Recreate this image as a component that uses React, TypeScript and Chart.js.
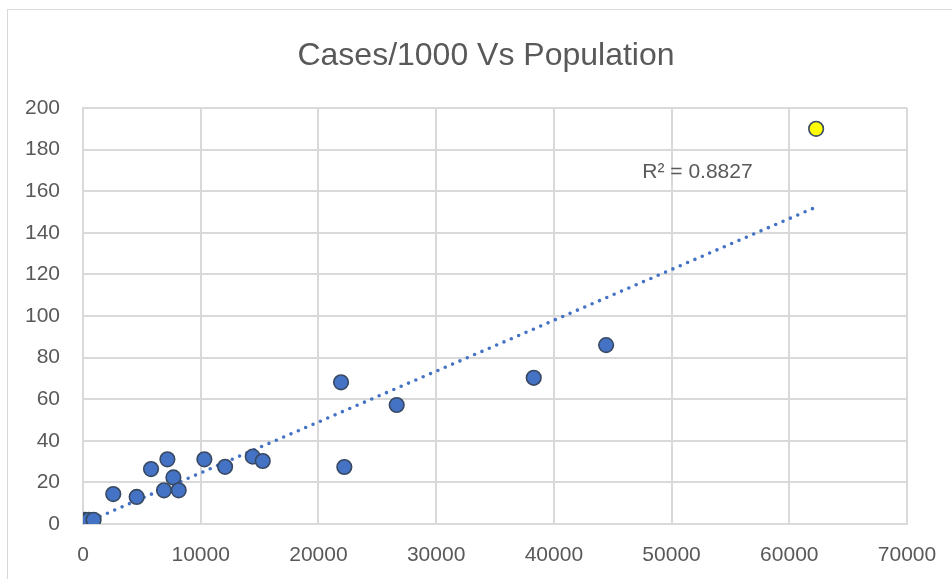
import { useEffect, useRef } from 'react';
import { Chart, registerables } from 'chart.js';

Chart.register(...registerables);

const title = 'Cases/1000 Vs Population';
const population = [200, 500, 900, 2570, 4560, 5780, 7170, 7680, 6880, 8130, 10310, 12070, 14420, 15270, 21920, 22200, 26650, 38290, 44440, 62280];
const casesPer1000 = [2, 2, 2, 14.4, 13, 26.4, 31.1, 22.4, 16.2, 16.2, 31.1, 27.5, 32.4, 30.3, 68.1, 27.4, 57.2, 70.3, 86, 190];
const highlightIndex = 19;
const xTicks = [0, 10000, 20000, 30000, 40000, 50000, 60000, 70000];
const yTicks = [0, 20, 40, 60, 80, 100, 120, 140, 160, 180, 200];
const r2Label = 'R² = 0.8827';
const r2LabelPos = { x: 52200, y: 169 };

function regression(xs: number[], ys: number[]) {
  const n = xs.length;
  const mx = xs.reduce((a, b) => a + b, 0) / n;
  const my = ys.reduce((a, b) => a + b, 0) / n;
  let sxy = 0, sxx = 0;
  for (let i = 0; i < n; i++) {
    sxy += (xs[i] - mx) * (ys[i] - my);
    sxx += (xs[i] - mx) * (xs[i] - mx);
  }
  const slope = sxy / sxx;
  return { slope, intercept: my - slope * mx };
}

const TEXT = '#595959';
const GRID = '#d9d9d9';
const FONT = "'Liberation Sans', Arial, sans-serif";

export default function App() {
  const ref = useRef<HTMLCanvasElement>(null);
  useEffect(() => {
    const canvas = ref.current!;
    Chart.defaults.font.family = FONT;
    const { slope, intercept } = regression(population, casesPer1000);
    const minX = Math.min(...population);
    const maxX = Math.max(...population);
    const points = population.map((x, i) => ({ x, y: casesPer1000[i] }));

    const deco = {
      id: 'deco',
      afterLayout(c: any) {
        if (c.titleBlock) {
          c.titleBlock.left = 65;
          c.titleBlock.right = c.chartArea.right;
        }
      },
      beforeDraw(c: any) {
        const g = c.ctx;
        g.save();
        g.strokeStyle = GRID;
        g.lineWidth = 1;
        g.strokeRect(7.5, 9.5, 980, 620);
        g.restore();
      },
      afterDatasetsDraw(c: any) {
        const g = c.ctx;
        const px = c.scales.x.getPixelForValue(r2LabelPos.x);
        const py = c.scales.y.getPixelForValue(r2LabelPos.y);
        g.save();
        g.fillStyle = TEXT;
        g.font = `21px ${FONT}`;
        g.textAlign = 'center';
        g.textBaseline = 'middle';
        g.fillText(r2Label, px, py);
        g.restore();
      },
    };

    const chart = new Chart(canvas, {
      type: 'scatter',
      data: {
        datasets: [
          {
            data: points,
            pointRadius: 7.3,
            pointHoverRadius: 7.3,
            pointBorderWidth: 1.6,
            pointBackgroundColor: population.map((_, i) => (i === highlightIndex ? '#FFFF00' : '#4472C4')),
            pointBorderColor: '#384962',
            showLine: false,
          },
          {
            data: [
              { x: minX, y: intercept + slope * minX },
              { x: maxX, y: intercept + slope * maxX },
            ],
            showLine: true,
            pointRadius: 0,
            borderColor: '#4472C4',
            borderWidth: 3.6,
            borderDash: [0, 8],
            borderCapStyle: 'round',
            fill: false,
          } as any,
        ],
      },
      options: {
        responsive: false,
        animation: false,
        devicePixelRatio: 1,
        layout: { padding: { left: 0, right: 45, top: 0, bottom: 0 } },
        plugins: {
          legend: { display: false },
          tooltip: { enabled: false },
          title: {
            display: true,
            text: title,
            color: TEXT,
            font: { size: 32, weight: 'normal', family: FONT },
            padding: { top: 36.8, bottom: 32.8 },
          },
        },
        scales: {
          x: {
            type: 'linear',
            min: xTicks[0],
            max: xTicks[xTicks.length - 1],
            afterBuildTicks: (s: any) => { s.ticks = xTicks.map((v) => ({ value: v })); },
            ticks: {
              color: TEXT,
              font: { size: 21 },
              padding: 19,
              maxRotation: 0,
              callback: (v: any) => String(v),
            },
            grid: { color: GRID, lineWidth: 2, drawTicks: false },
            border: { color: GRID, width: 2 },
            afterFit: (s: any) => { s.height = 55; s.paddingRight = 0; s.paddingLeft = 0; },
          },
          y: {
            type: 'linear',
            min: yTicks[0],
            max: yTicks[yTicks.length - 1],
            afterBuildTicks: (s: any) => { s.ticks = yTicks.map((v) => ({ value: v })); },
            ticks: {
              color: TEXT,
              font: { size: 21 },
              padding: 23,
              callback: (v: any) => String(v),
            },
            grid: { color: GRID, lineWidth: 2, drawTicks: false },
            border: { color: GRID, width: 2 },
            afterFit: (s: any) => { s.width = 83; },
          },
        },
      },
      plugins: [deco],
    });
    return () => chart.destroy();
  }, []);
  return (
    <div style={{ position: 'fixed', left: 0, top: 0, width: 952, height: 579, background: '#fff' }}>
      <canvas ref={ref} width={952} height={579} style={{ display: 'block', width: 952, height: 579 }} />
    </div>
  );
}
